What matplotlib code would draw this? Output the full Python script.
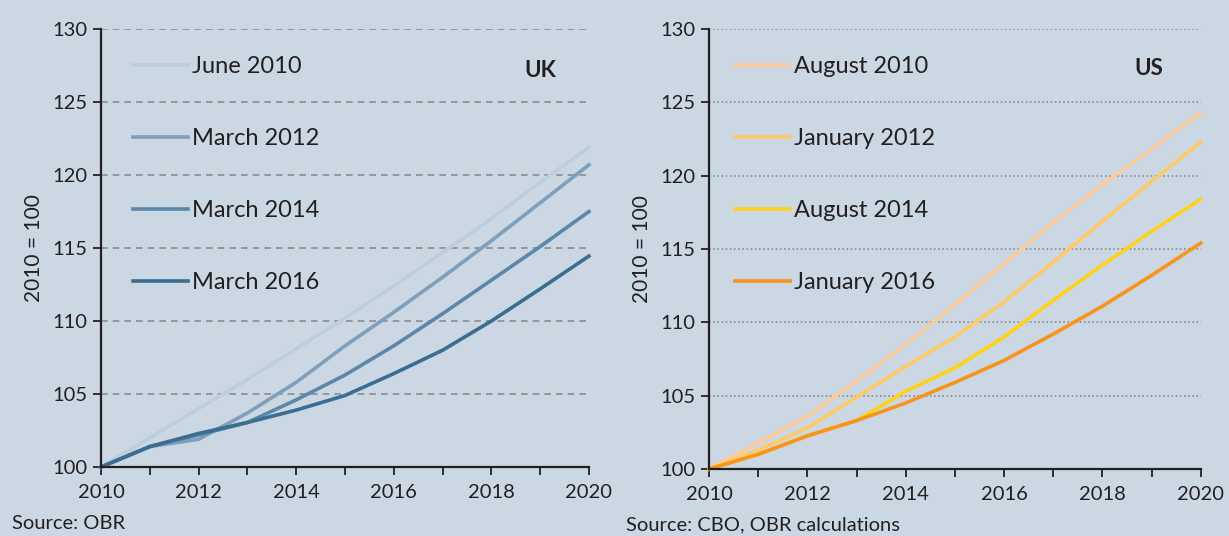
import numpy as np
import matplotlib
matplotlib.use("Agg")
import matplotlib.pyplot as plt

plt.rcParams['font.family'] = ['Lato', 'DejaVu Sans']

years = list(range(2010, 2021))

# UK forecasts (2010 = 100)
uk_labels = ["June 2010", "March 2012", "March 2014", "March 2016"]
uk_june2010 = [100, 102.0, 104.0, 106.0, 108.1, 110.2, 112.4, 114.7, 117.0, 119.5, 121.9]
uk_march2012 = [100, 101.4, 101.9, 103.7, 105.8, 108.3, 110.6, 113.0, 115.5, 118.1, 120.7]
uk_march2014 = [100, 101.4, 102.2, 103.05, 104.6, 106.3, 108.3, 110.5, 112.8, 115.1, 117.5]
uk_march2016 = [100, 101.4, 102.3, 103.05, 103.9, 104.9, 106.4, 108.0, 110.0, 112.2, 114.45]

# US forecasts (2010 = 100)
us_labels = ["August 2010", "January 2012", "August 2014", "January 2016"]
us_aug2010 = [100, 101.8, 103.6, 106.0, 108.5, 111.2, 114.0, 116.8, 119.4, 121.8, 124.3]
us_jan2012 = [100, 101.3, 102.8, 104.9, 107.0, 109.0, 111.4, 114.1, 116.9, 119.6, 122.3]
us_aug2014 = [100, 101.0, 102.26, 103.3, 105.3, 106.9, 109.0, 111.5, 113.9, 116.2, 118.4]
us_jan2016 = [100, 101.0, 102.26, 103.3, 104.5, 105.9, 107.4, 109.2, 111.1, 113.2, 115.4]

bg = '#cbd8e3'
uk_colors = ['#bccedd', '#7f9fbb', '#5b87a8', '#3b6d92']
us_colors = ['#fdcb9b', '#ffca66', '#ffd11a', '#f7941d']

fig = plt.figure(figsize=(12.29, 5.36), dpi=100, facecolor=bg)
ax1 = fig.add_axes([0.0822, 0.1287, 0.397, 0.817])
ax2 = fig.add_axes([0.577, 0.125, 0.400, 0.821])


def style_axes(ax, grid_style):
    ax.set_facecolor(bg)
    ax.set_xlim(2010, 2020)
    ax.set_ylim(100, 130)
    ax.set_xticks(range(2010, 2021))
    ax.set_xticklabels([str(y) if y % 2 == 0 else '' for y in range(2010, 2021)])
    ax.set_yticks(range(100, 131, 5))
    for s in ['top', 'right']:
        ax.spines[s].set_visible(False)
    for s in ['left', 'bottom']:
        ax.spines[s].set_color('#231f20')
        ax.spines[s].set_linewidth(1.6)
    ax.tick_params(axis='both', direction='out', length=6, width=1.3, color='#231f20',
                   labelsize=14.5, labelcolor='#231f20', pad=4)
    ax.tick_params(axis='x', pad=6)
    for v in range(105, 131, 5):
        ax.axhline(v, color='#8c8c8c', lw=1.2, linestyle=grid_style, zorder=0)
    ax.set_ylabel('2010 = 100', fontsize=15, color='#231f20', labelpad=6)


style_axes(ax1, (0, (4, 3)))
style_axes(ax2, (0, (1, 1.5)))

for vals, lab, c in zip([uk_june2010, uk_march2012, uk_march2014, uk_march2016], uk_labels, uk_colors):
    ax1.plot(years, vals, color=c, lw=2.6, label=lab, clip_on=False)
for vals, lab, c in zip([us_aug2010, us_jan2012, us_aug2014, us_jan2016], us_labels, us_colors):
    ax2.plot(years, vals, color=c, lw=2.6, label=lab, clip_on=False)

for ax, x0 in ((ax1, 0.047), (ax2, 0.034)):
    leg = ax.legend(loc='upper left', bbox_to_anchor=(x0, 0.96), frameon=False,
                    fontsize=17, handlelength=2.3, handletextpad=0.18, labelspacing=2.16,
                    borderaxespad=0)
    for t in leg.get_texts():
        t.set_color('#231f20')

ax1.text(0.9, 0.905, 'UK', transform=ax1.transAxes, fontsize=16, fontweight='bold',
         color='#231f20', ha='center', va='center')
ax2.text(0.895, 0.91, 'US', transform=ax2.transAxes, fontsize=16, fontweight='bold',
         color='#231f20', ha='center', va='center')

fig.text(0.01, 0.023, 'Source: OBR', fontsize=14.5, color='#231f20', va='center')
fig.text(0.509, 0.02, 'Source: CBO, OBR calculations', fontsize=14.5, color='#231f20', va='center')

fig.savefig('out.png', dpi=100, facecolor=bg)
